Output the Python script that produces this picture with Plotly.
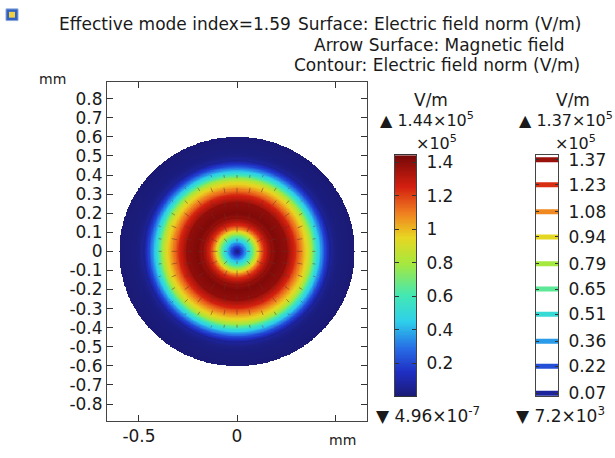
import numpy as np
import plotly.graph_objects as go
from plotly.colors import sample_colorscale

# ---------------- data ----------------
# radial profile of electric field norm (x1e5 V/m) vs radius (mm)
profile_r = [0.0, 0.03, 0.06, 0.087, 0.11, 0.13, 0.16, 0.20, 0.25, 0.29, 0.33, 0.36, 0.38, 0.41, 0.43, 0.45, 0.47, 0.50, 0.55, 0.60]
profile_e = [0.0, 0.25, 0.50, 0.75, 1.00, 1.18, 1.34, 1.42, 1.39, 1.26, 1.06, 0.92, 0.78, 0.50, 0.35, 0.20, 0.08, 0.02, 0.005, 0.0]
fiber_radius = 0.6            # mm
e_max = 1.44                  # x1e5 V/m
e_min_text = "▼ 4.96×10<sup>-7</sup>"
e_max_text = "▲ 1.44×10<sup>5</sup>"
c_max_text = "▲ 1.37×10<sup>5</sup>"
c_min_text = "▼ 7.2×10<sup>3</sup>"
contour_levels = [0.07, 0.22, 0.36, 0.51, 0.65, 0.79, 0.94, 1.08, 1.23, 1.37]
contour_labels = ["0.07", "0.22", "0.36", "0.51", "0.65", "0.79", "0.94", "1.08", "1.23", "1.37"]
bar_ticks = [0.2, 0.4, 0.6, 0.8, 1.0, 1.2, 1.4]
bar_tick_labels = ["0.2", "0.4", "0.6", "0.8", "1", "1.2", "1.4"]
y_ticks = [-0.8, -0.7, -0.6, -0.5, -0.4, -0.3, -0.2, -0.1, 0, 0.1, 0.2, 0.3, 0.4, 0.5, 0.6, 0.7, 0.8]
y_tick_labels = ["-0.8", "-0.7", "-0.6", "-0.5", "-0.4", "-0.3", "-0.2", "-0.1", "0",
                 "0.1", "0.2", "0.3", "0.4", "0.5", "0.6", "0.7", "0.8"]
x_ticks = [-0.5, 0, 0.5]
x_tick_labels = ["-0.5", "0", ""]

# COMSOL-like rainbow colour table
cscale = [
    [0.00, "#1b1b76"],
    [0.10, "#1f2fc4"],
    [0.20, "#276ee6"],
    [0.31, "#2ed0ea"],
    [0.42, "#44e8b2"],
    [0.55, "#a6e83e"],
    [0.66, "#e8d622"],
    [0.76, "#f08020"],
    [0.87, "#d42010"],
    [1.00, "#760808"],
]

W, H = 615, 458
FONT = "DejaVu Sans"
TXT = "#1a1a1a"
FS = 17

def px_x(p):
    return p / W

def px_y(p):
    return 1 - p / H

# ---------------- field surface ----------------
n = 401
gx = np.linspace(-fiber_radius, fiber_radius, n)
X, Y = np.meshgrid(gx, gx)
R = np.sqrt(X ** 2 + Y ** 2)
Z = np.interp(R, profile_r, profile_e)
Z = np.where(R <= fiber_radius, Z, np.nan)

fig = go.Figure()
fig.add_trace(go.Heatmap(x=gx, y=gx, z=Z, colorscale=cscale, zmin=0, zmax=e_max,
                         showscale=False, hoverinfo="skip"))

# contour lines of the same field
fig.add_trace(go.Contour(x=gx, y=gx, z=Z, colorscale=cscale, zmin=0, zmax=e_max,
                         autocontour=False, opacity=0.6,
                         contours=dict(start=contour_levels[0], end=contour_levels[-1],
                                       size=(contour_levels[-1] - contour_levels[0]) / (len(contour_levels) - 1),
                                       coloring="lines"),
                         line=dict(width=0.7), showscale=False, hoverinfo="skip"))

# arrow surface (magnetic field, radial), on a grid
ag = np.linspace(-fiber_radius, fiber_radius, 19)
ax_, ay_ = [], []
for xv in ag:
    for yv in ag:
        r = np.hypot(xv, yv)
        if r == 0 or r > fiber_radius:
            continue
        mag = np.interp(r, profile_r, profile_e) / e_max
        if mag < 0.05:
            continue
        L = 0.04 * mag
        ax_ += [xv, xv - L * xv / r, None]
        ay_ += [yv, yv - L * yv / r, None]
fig.add_trace(go.Scatter(x=ax_, y=ay_, mode="lines",
                         line=dict(color="rgba(110,45,40,0.5)", width=1),
                         hoverinfo="skip", showlegend=False))

# ---------------- colour bar 1 (surface) ----------------
cb_vals = np.linspace(0, e_max, 300)
fig.add_trace(go.Heatmap(x=[0, 1], y=cb_vals, z=np.column_stack([cb_vals, cb_vals]),
                         colorscale=cscale, zmin=0, zmax=e_max, showscale=False,
                         hoverinfo="skip", xaxis="x2", yaxis="y2"))

# ---------------- colour bar 2 (contour legend) ----------------
for lv in contour_levels:
    col = sample_colorscale(cscale, [lv / e_max])[0]
    fig.add_trace(go.Scatter(x=[0, 1], y=[lv, lv], mode="lines",
                             line=dict(color=col, width=5), hoverinfo="skip",
                             showlegend=False, xaxis="x3", yaxis="y3"))

axis_common = dict(showgrid=False, zeroline=False, showline=True, linecolor="#444",
                   linewidth=1, mirror="allticks", ticks="inside", tickcolor="#333",
                   tickfont=dict(family=FONT, size=FS, color=TXT))

fig.update_layout(
    width=W, height=H, margin=dict(l=0, r=0, t=0, b=0),
    paper_bgcolor="white", plot_bgcolor="white", showlegend=False,
    font=dict(family=FONT, color=TXT),
    xaxis=dict(domain=[px_x(107), px_x(367)], range=[-0.663, 0.663],
               tickvals=x_ticks, ticktext=x_tick_labels, ticklen=6, **axis_common),
    yaxis=dict(domain=[px_y(427), px_y(79)], range=[-0.888, 0.888],
               tickvals=y_ticks, ticktext=y_tick_labels, ticklen=6, **axis_common),
    xaxis2=dict(domain=[px_x(395), px_x(416)], range=[0, 1], showticklabels=False,
                showgrid=False, zeroline=False, showline=True, linecolor="#333",
                mirror=True, ticks="", anchor="y2"),
    yaxis2=dict(domain=[px_y(402), px_y(154)], range=[0, 1.445], side="right",
                tickvals=bar_ticks, ticktext=bar_tick_labels, ticklen=4,
                ticklabelstandoff=6, anchor="x2", **axis_common),
    xaxis3=dict(domain=[px_x(536), px_x(558)], range=[0, 1], showticklabels=False,
                showgrid=False, zeroline=False, showline=True, linecolor="#444",
                mirror=True, ticks="", anchor="y3"),
    yaxis3=dict(domain=[px_y(402), px_y(154)], range=[0.052, 1.396], side="right",
                tickvals=contour_levels, ticktext=contour_labels, ticklen=3,
                ticklabelstandoff=6, anchor="x3", **axis_common),
)

ann = []
def txt(x, y, s, size=FS, xanchor="center"):
    ann.append(dict(x=px_x(x), y=px_y(y), xref="paper", yref="paper", text=s,
                    showarrow=False, xanchor=xanchor, yanchor="middle",
                    font=dict(family=FONT, size=size, color=TXT)))

txt(57, 20, "Effective mode index=1.59", xanchor="left")
txt(439, 20, "Surface: Electric field norm (V/m)")
txt(439, 41, "Arrow Surface: Magnetic field")
txt(437, 62, "Contour: Electric field norm (V/m)")
txt(52, 76, "mm", size=14)
txt(342, 447, "mm", size=14)
txt(431, 98, "V/m")
txt(427, 118, e_max_text, size=16)
txt(436, 141, "×10<sup>5</sup>", size=16)
txt(428, 421, e_min_text)
txt(573, 98, "V/m")
txt(517, 118, c_max_text, size=16, xanchor="left")
txt(575, 141, "×10<sup>5</sup>", size=16)
txt(560, 421, c_min_text)
fig.update_layout(annotations=ann)

# small application icon in the corner
fig.add_shape(type="rect", xref="paper", yref="paper", x0=px_x(6), x1=px_x(18),
              y0=px_y(16), y1=px_y(4), fillcolor="#2f62c4", line=dict(color="#8fa8d8", width=1))
fig.add_shape(type="rect", xref="paper", yref="paper", x0=px_x(9), x1=px_x(15),
              y0=px_y(13), y1=px_y(7), fillcolor="#f0d040", line=dict(width=0))

fig.write_html("out.html")
